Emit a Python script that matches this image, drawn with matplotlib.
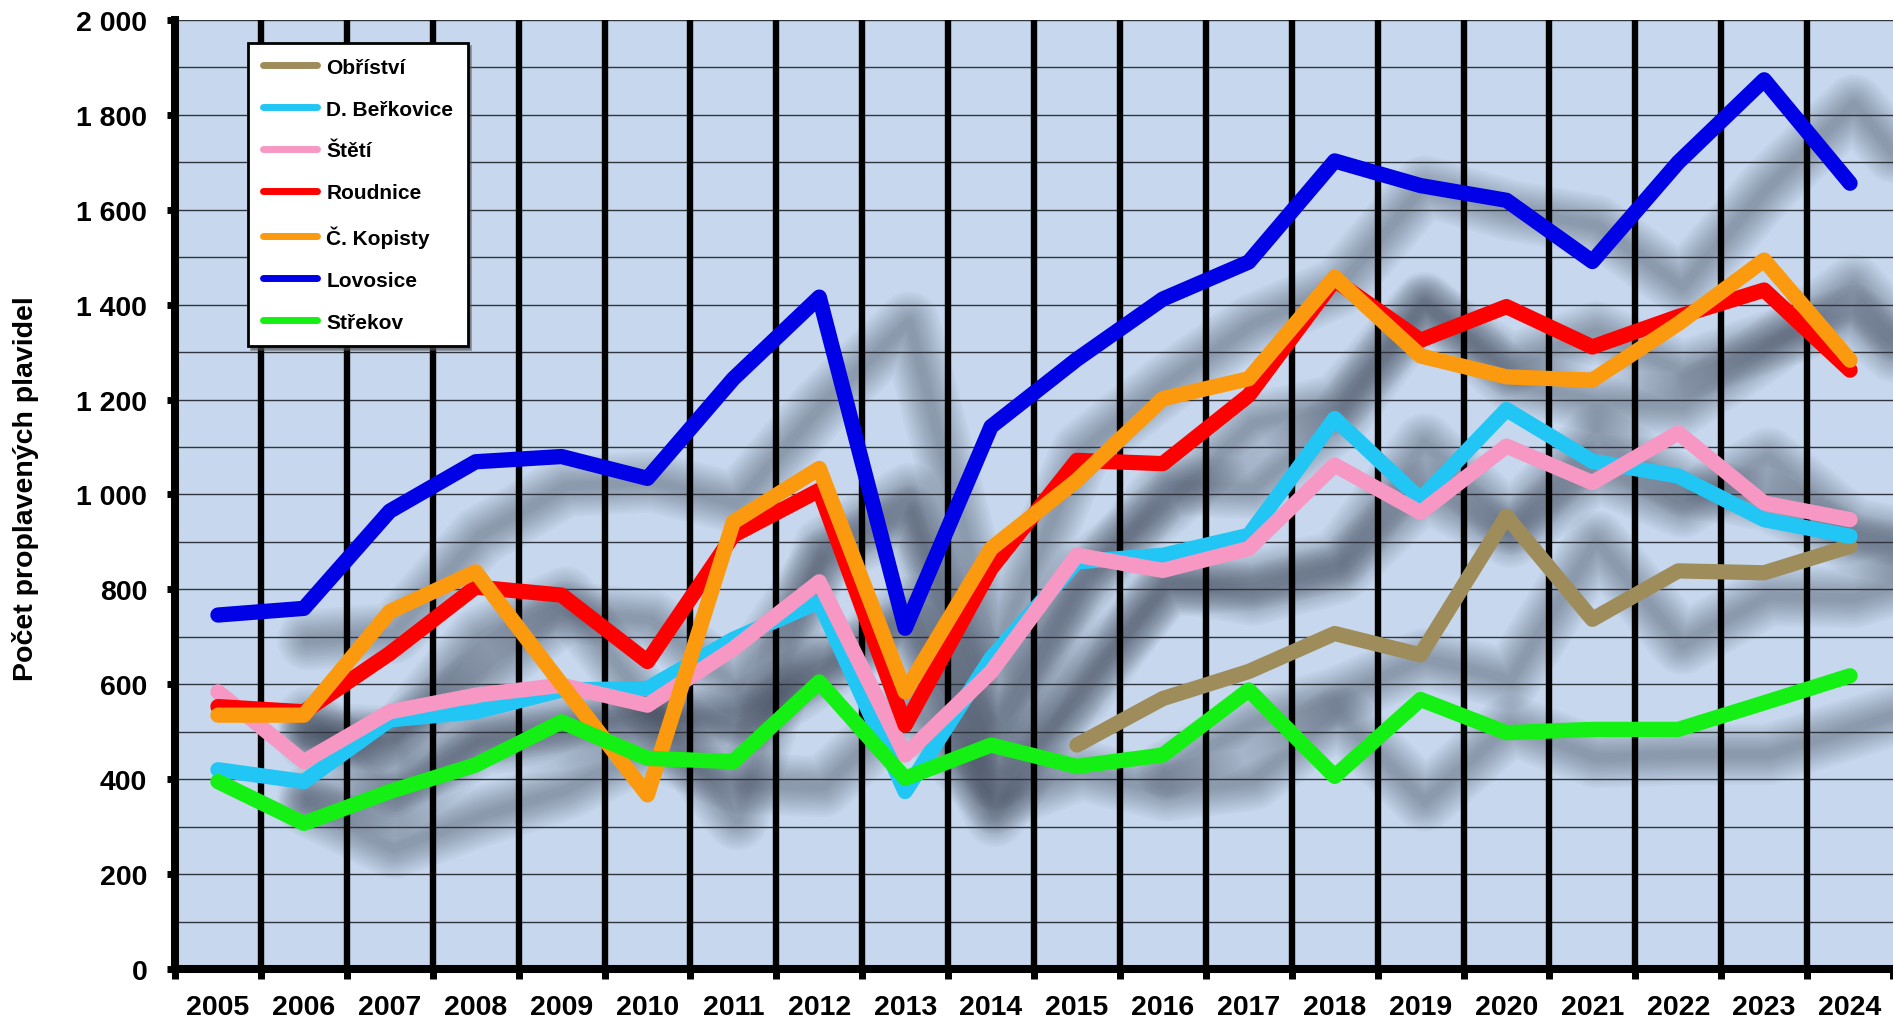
import numpy as np
import matplotlib
matplotlib.use("Agg")
from matplotlib import pyplot as plt
from matplotlib import transforms

plt.rcParams['font.family'] = ['Liberation Sans', 'DejaVu Sans']
plt.rcParams['font.weight'] = 'bold'

years = [str(y) for y in range(2005, 2025)]
nan = np.nan

# pocet proplavenych plavidel po plavebnich komorach
obristvi = [nan, nan, nan, nan, nan, nan, nan, nan, nan, nan,
            472, 570, 627, 707, 662, 954, 737, 839, 835, 891]
berkovice = [420, 395, 525, 542, 588, 591, 695, 774, 374, 655,
             858, 872, 914, 1160, 990, 1179, 1070, 1039, 947, 912]
steti = [584, 437, 542, 577, 598, 556, 675, 816, 451, 626,
         872, 840, 886, 1062, 962, 1102, 1025, 1130, 982, 947]
roudnice = [553, 542, 665, 805, 788, 648, 914, 1009, 514, 844,
            1072, 1065, 1209, 1452, 1325, 1396, 1311, 1375, 1431, 1262]
kopisty = [535, 535, 753, 837, 600, 367, 942, 1055, 584, 886,
           1030, 1202, 1244, 1458, 1292, 1248, 1241, 1360, 1494, 1283]
lovosice = [746, 760, 965, 1069, 1080, 1034, 1244, 1416, 718, 1143,
            1285, 1412, 1490, 1703, 1651, 1620, 1491, 1700, 1874, 1656]
strekov = [395, 307, 374, 430, 521, 444, 437, 605, 402, 472,
           427, 451, 588, 406, 568, 498, 505, 505, 561, 618]

series = [
    ('Obříství', obristvi, '#9e8d5b'),
    ('D. Beřkovice', berkovice, '#22c6f4'),
    ('Štětí', steti, '#f797c3'),
    ('Roudnice', roudnice, '#ff0000'),
    ('Č. Kopisty', kopisty, '#fb990f'),
    ('Lovosice', lovosice, '#0000e6'),
    ('Střekov', strekov, '#14f014'),
]

ytick_vals = [0, 200, 400, 600, 800, 1000, 1200, 1400, 1600, 1800, 2000]
ytick_labels = ['0', '200', '400', '600', '800', '1 000', '1 200',
                '1 400', '1 600', '1 800', '2 000']

fig = plt.figure(figsize=(18.93, 10.20), dpi=100)
ax = fig.add_axes([175 / 1893, 50 / 1020, 1718 / 1893, 949 / 1020])
ax.set_facecolor('#c7d8ee')

xs = np.arange(len(years))

# soft drop shadow, shifted right and a bit down
shadow_tr = transforms.offset_copy(ax.transData, fig=fig, x=90, y=-25, units='dots')
for name, vals, color in series:
    for lw in np.linspace(44, 6, 13):
        ax.plot(xs, vals, color='#384050', alpha=0.035, lw=lw,
                solid_joinstyle='round', solid_capstyle='round',
                transform=shadow_tr, zorder=1)

# grid
for v in range(100, 2001, 100):
    ax.axhline(v, color='#30343c', lw=1.0, zorder=1.5)
for b in np.arange(0.5, len(years) - 0.5, 1):
    ax.axvline(b, color='black', lw=4.6, zorder=1.6)

for name, vals, color in series:
    ax.plot(xs, vals, color=color, lw=11, label=name,
            solid_joinstyle='round', solid_capstyle='round', zorder=3)

ax.set_xlim(-0.5, len(years) - 0.5)
ax.set_ylim(0, 2000)

ax.set_yticks(ytick_vals)
ax.set_yticklabels(ytick_labels)
ax.set_xticks(xs)
ax.set_xticklabels(years)
ax.set_xticks(np.arange(-0.5, len(years), 1), minor=True)
ax.tick_params(axis='y', which='major', length=6, width=5, pad=14,
               labelsize=20.5, direction='out')
ax.tick_params(axis='x', which='major', length=0, pad=18, labelsize=20.5)
ax.tick_params(axis='x', which='minor', length=7, width=5, direction='out')
for lab in ax.get_xticklabels() + ax.get_yticklabels():
    lab.set_fontweight('bold')

for side in ['top', 'right']:
    ax.spines[side].set_visible(False)
for side in ['left', 'bottom']:
    ax.spines[side].set_linewidth(5.8)
    ax.spines[side].set_zorder(5)

fig.text(26 / 1893, 1 - 489 / 1020, 'Počet proplavených plavidel',
         rotation=90, ha='center', va='center', fontsize=20.5, fontweight='bold')

leg = ax.legend(loc='upper left', bbox_to_anchor=(248 / 1893, 1 - 44 / 1020),
                bbox_transform=fig.transFigure, borderaxespad=0,
                fontsize=15, handlelength=2.6, handletextpad=0.45,
                labelspacing=1.1, borderpad=0.7, fancybox=False,
                framealpha=1, facecolor='white', edgecolor='black', shadow=True)
leg.get_frame().set_linewidth(2)
leg.set_zorder(10)
for line in leg.get_lines():
    line.set_linewidth(5)
    line.set_solid_capstyle('round')
for t in leg.get_texts():
    t.set_fontweight('bold')

fig.savefig('out.png', dpi=100)
